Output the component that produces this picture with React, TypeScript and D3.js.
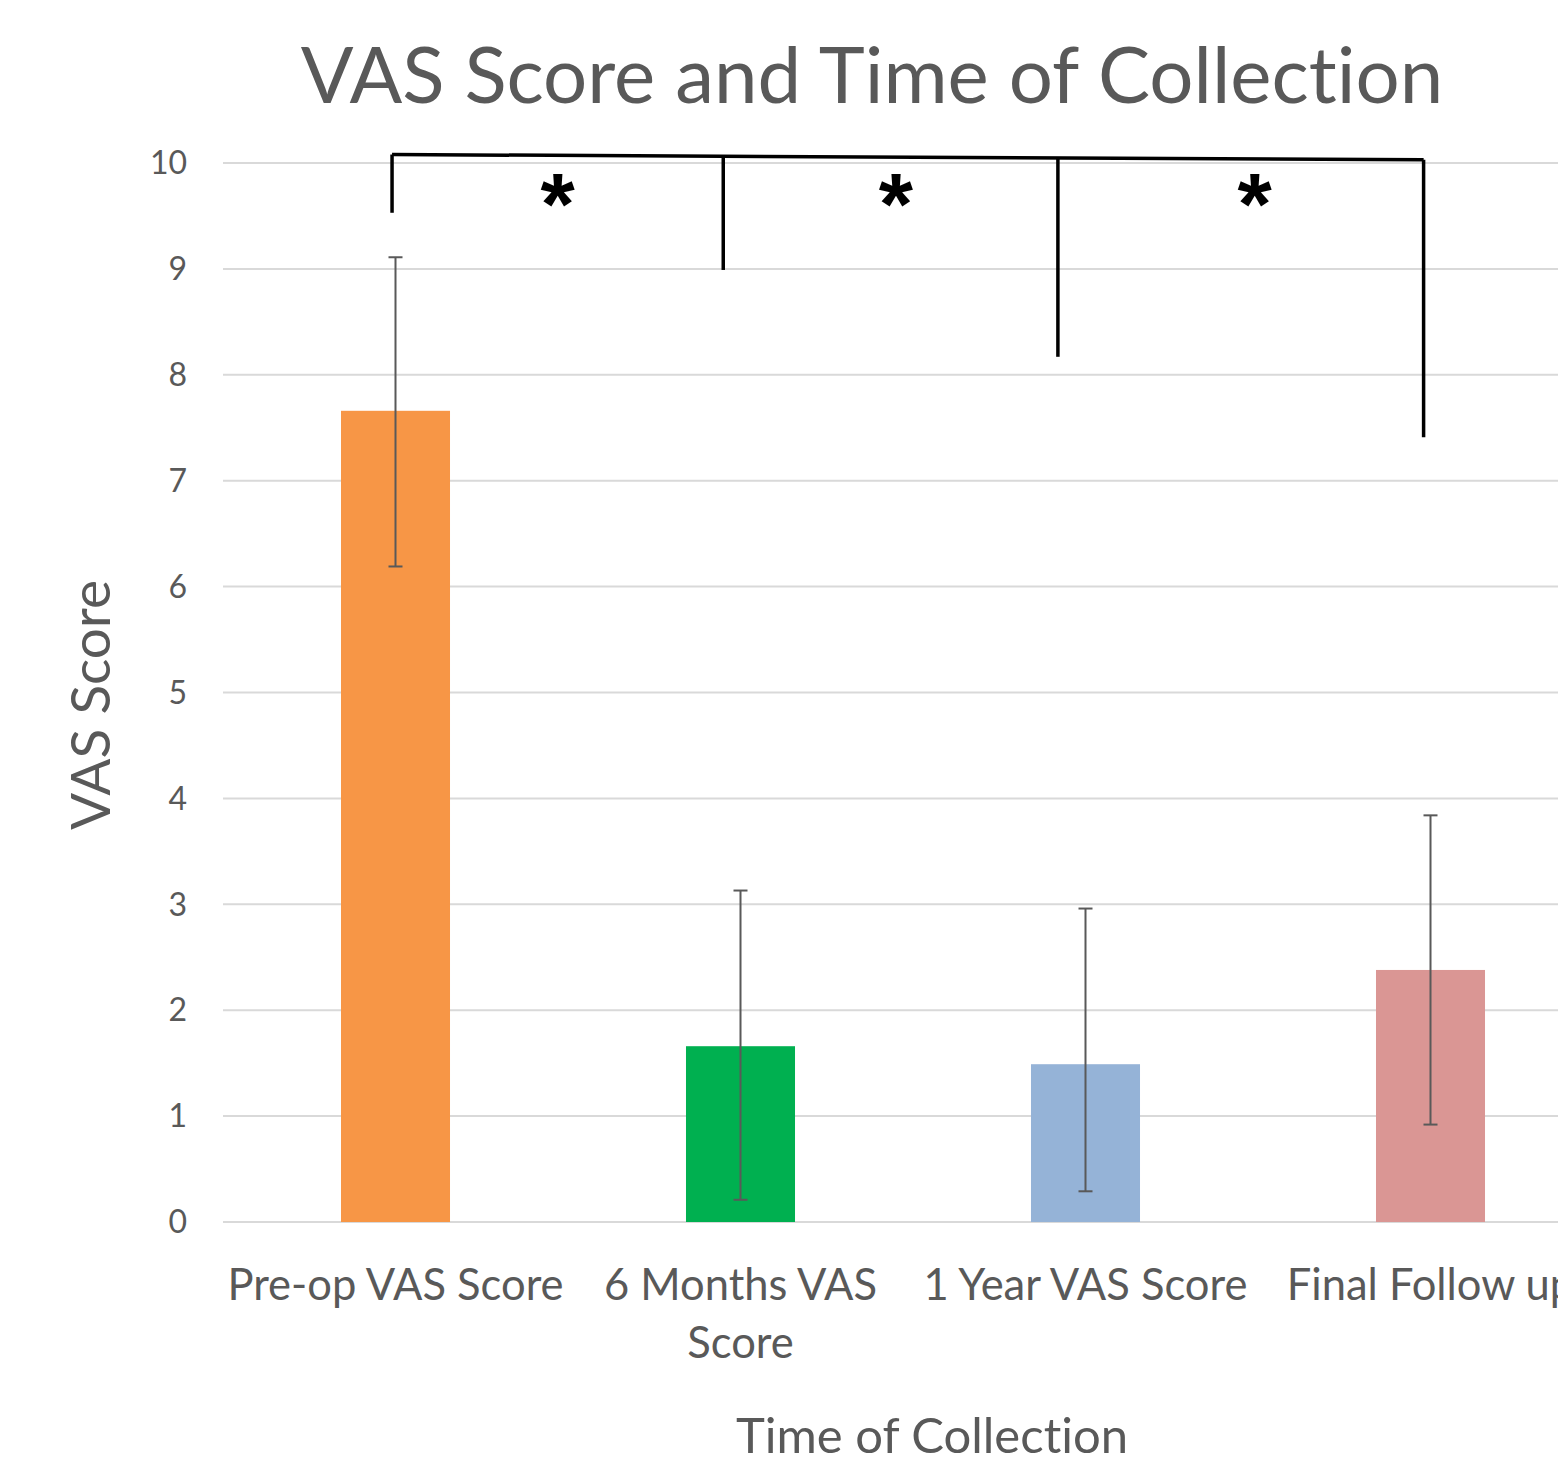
import React, { useEffect } from 'react'
import * as d3 from 'd3'

// bar chart data
const categories = ['Pre-op VAS Score', '6 Months VAS Score', '1 Year VAS Score', 'Final Follow up']
const labelLines = [['Pre-op VAS Score'], ['6 Months VAS', 'Score'], ['1 Year VAS Score'], ['Final Follow up']]
const means = [7.66, 1.66, 1.49, 2.38]
const errLow = [6.19, 0.21, 0.29, 0.92]
const errHigh = [9.11, 3.13, 2.96, 3.84]
const barColors = ['#F79646', '#00B050', '#95B3D7', '#DA9694']
const yTicks = [0, 1, 2, 3, 4, 5, 6, 7, 8, 9, 10]

// significance bracket (positions in category steps from first bar, values in VAS units)
const legPos = [-0.01, 0.95, 1.92, 2.98]
const legBottom = [9.53, 8.99, 8.17, 7.41]
const bracketTop = [10.08, 10.03]
const starPos = [0.47, 1.45, 2.49]

const W = 1558
const H = 1465
const FONT = 'Lato, "Open Sans", sans-serif'
const GREY = '#595959'
const noLig = { fontVariantLigatures: 'none' as const, fontFeatureSettings: '"liga" 0' }

export default function App() {
  useEffect(() => {
    document.body.style.margin = '0'
  }, [])

  const x = d3.scaleBand<string>()
    .domain(categories)
    .range([223, 1603])
    .paddingInner(0.684)
    .paddingOuter(0.342)

  const y = d3.scaleLinear().domain([0, 10]).range([1222, 163])

  const step = x.step()
  const xAt = (p: number) => (x(categories[0]) as number) + x.bandwidth() / 2 + p * step

  return (
    <svg width={W} height={H} style={{ display: 'block' }}>
      <rect width={W} height={H} fill="#fff" />

      <text x={872} y={103} textAnchor="middle" fontFamily={FONT} fontSize={78} fill={GREY} style={noLig}>
        VAS Score and Time of Collection
      </text>

      {/* gridlines */}
      {yTicks.map(t => (
        <g key={t}>
          <line x1={223} x2={W} y1={y(t)} y2={y(t)} stroke="#d9d9d9" strokeWidth={2} />
          <text x={187} y={y(t)} dy="0.35em" textAnchor="end" fontFamily={FONT} fontSize={32} fill={GREY}>
            {t}
          </text>
        </g>
      ))}

      {/* bars */}
      {categories.map((c, i) => (
        <rect key={c} x={x(c)} y={y(means[i])} width={x.bandwidth()} height={y(0) - y(means[i])} fill={barColors[i]} />
      ))}

      {/* error bars */}
      {categories.map((c, i) => {
        const cx = (x(c) as number) + x.bandwidth() / 2
        return (
          <g key={c} stroke={GREY} strokeWidth={2}>
            <line x1={cx} x2={cx} y1={y(errLow[i])} y2={y(errHigh[i])} />
            <line x1={cx - 7} x2={cx + 7} y1={y(errLow[i])} y2={y(errLow[i])} />
            <line x1={cx - 7} x2={cx + 7} y1={y(errHigh[i])} y2={y(errHigh[i])} />
          </g>
        )
      })}

      {/* significance bracket */}
      <g stroke="#000" strokeWidth={3.5} fill="none">
        <line x1={xAt(legPos[0])} x2={xAt(legPos[3])} y1={y(bracketTop[0])} y2={y(bracketTop[1])} />
        {legPos.map((p, i) => {
          const frac = (p - legPos[0]) / (legPos[3] - legPos[0])
          const top = bracketTop[0] + (bracketTop[1] - bracketTop[0]) * frac
          return <line key={i} x1={xAt(p)} x2={xAt(p)} y1={y(top)} y2={y(legBottom[i])} />
        })}
      </g>
      {starPos.map((p, i) => (
        <text key={i} x={xAt(p)} y={234} textAnchor="middle" fontFamily="'Liberation Sans', Arial, sans-serif"
          fontWeight="bold" fontSize={88} fill="#000">*</text>
      ))}

      {/* x tick labels */}
      {categories.map((c, i) => {
        const cx = (x(c) as number) + x.bandwidth() / 2
        return (
          <text key={c} x={cx} y={1300} textAnchor="middle" fontFamily={FONT} fontSize={43.5} fill={GREY}>
            {labelLines[i].map((l, j) => (
              <tspan key={j} x={cx} dy={j === 0 ? 0 : 58}>{l}</tspan>
            ))}
          </text>
        )
      })}

      <text x={932} y={1453} textAnchor="middle" fontFamily={FONT} fontSize={49} fill={GREY} style={noLig}>
        Time of Collection
      </text>
      <text transform="translate(110,705) rotate(-90)" textAnchor="middle" fontFamily={FONT} fontSize={55} fill={GREY}>
        VAS Score
      </text>
    </svg>
  )
}
